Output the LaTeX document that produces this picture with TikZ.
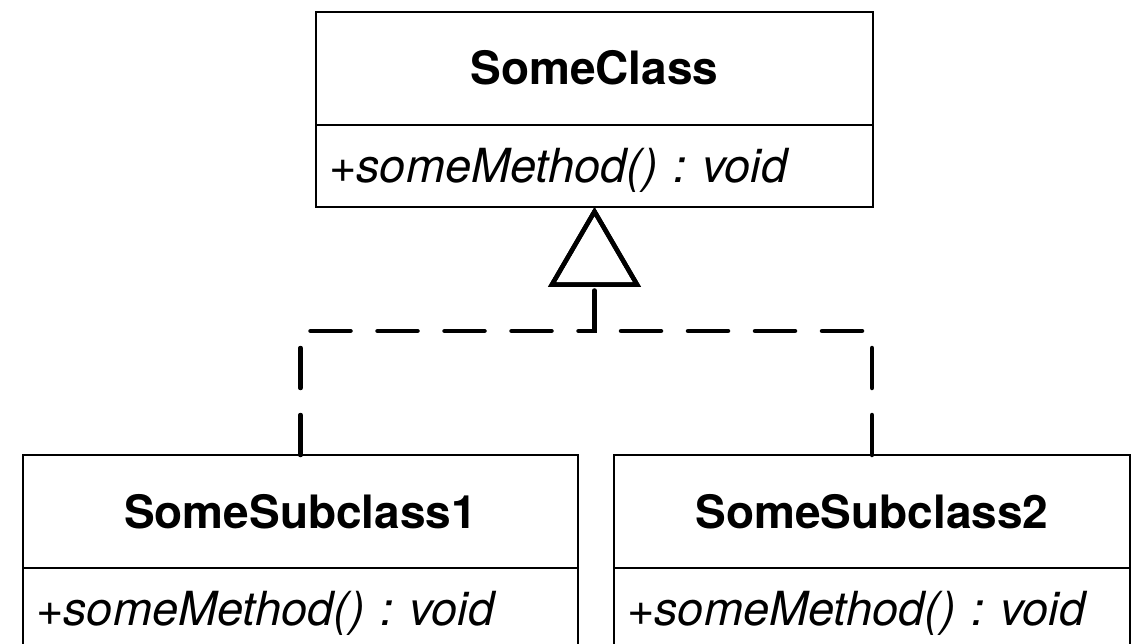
\documentclass[tikz,border=0pt]{standalone}
\usepackage{fontspec}
\setmainfont{TeX Gyre Heros}
\usetikzlibrary{positioning,arrows.meta}
\tikzset{
  classname/.style={draw,line width=2pt,outer sep=0pt,inner sep=0pt,minimum height=113pt,text height=33pt,text depth=0pt,font=\fontsize{46}{55}\selectfont\bfseries},
  classmethod/.style={draw,line width=2pt,outer sep=0pt,inner xsep=13pt,inner ysep=0pt,minimum height=82pt,text height=33pt,text depth=0pt,align=left,font=\fontsize{47}{55}\selectfont\itshape\frenchspacing},
  realizes/.style={line width=4.5pt,line cap=round,dash pattern=on 40pt off 27pt,-{Triangle[open,length=80pt,width=92pt]}}
}
\begin{document}
\begin{tikzpicture}[x=1pt,y=-1pt]
	\useasboundingbox (0,0) rectangle (1143,644);
	\clip (0,0) rectangle (1143,644);
	% parent class
	\node[classname,minimum width=557pt] (someclass) at (594.5,68.5) {SomeClass};
	\node[classmethod,text width=531pt,below=0pt of someclass] (someclassmethod) {+someMethod() : void};
	% subclasses
	\node[classname,minimum width=555pt] (subclassa) at (300.5,511.5) {SomeSubclass1};
	\node[classmethod,text width=529pt,below=0pt of subclassa] (subclassamethod) {+someMethod() : void};
	\node[classname,minimum width=516pt,right=36pt of subclassa] (subclassb) {SomeSubclass2};
	\node[classmethod,text width=490pt,below=0pt of subclassb] (subclassbmethod) {+someMethod() : void};
	% realization
	\draw[realizes] (subclassa.north) -- ++(0,-124) -| (someclassmethod.south);
	\draw[realizes] (subclassb.north) -- ++(0,-124) -| (someclassmethod.south);
\end{tikzpicture}
\end{document}
